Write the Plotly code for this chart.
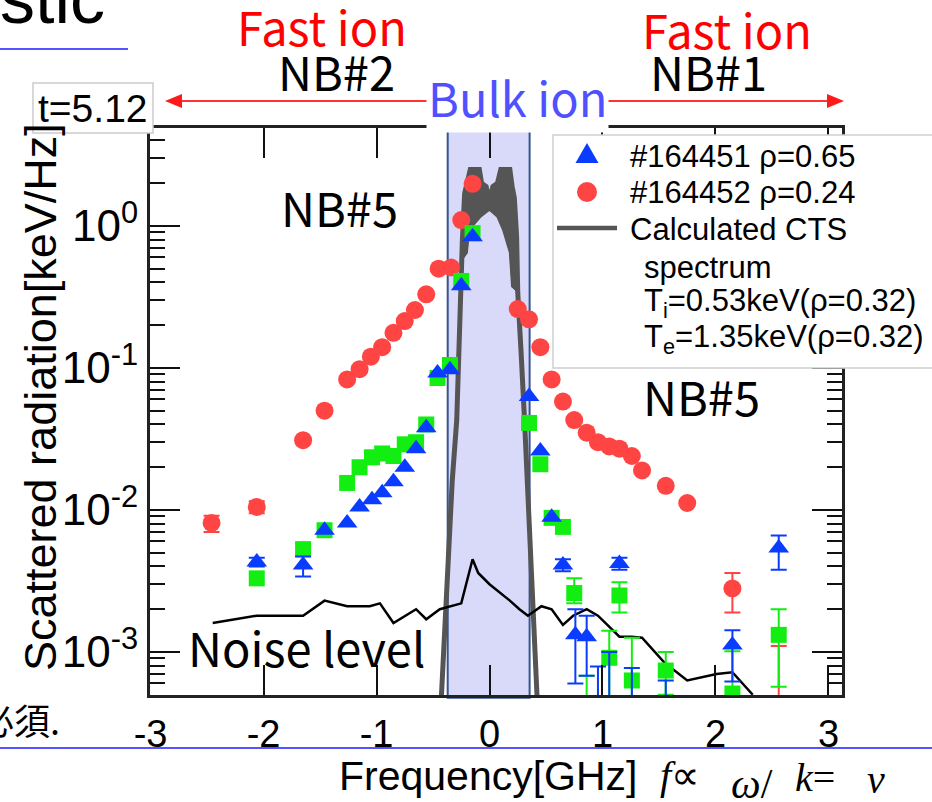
import plotly.graph_objects as go

W, H = 932, 802


def X(px):
    return px / W


def Y(py):
    return 1 - py / H


# ---------------- data ----------------
x_ticks = [-3, -2, -1, 0, 1, 2, 3]
x_ticktext = ["-3", "-2", "-1", "0", "1", "2", "3"]
y_ticks = [1e-3, 1e-2, 1e-1, 1]
y_ticktext = ["10<sup>-3</sup>", "10<sup>-2</sup>", "10<sup>-1</sup>", "10<sup>0</sup>"]

# #164452 rho=0.24 (red circles)
red_x = [-2.46, -2.06, -1.65, -1.46, -1.26, -1.15, -1.05, -0.95, -0.85, -0.75, -0.66, -0.56,
         -0.45, -0.34, -0.25, -0.15, 0.25, 0.35, 0.45, 0.55, 0.65, 0.75, 0.86, 0.96, 1.06,
         1.15, 1.26, 1.35, 1.56, 1.75, 2.15, 2.56]
red_y = [8.1e-3, 0.0105, 0.031, 0.050, 0.083, 0.098, 0.12, 0.14, 0.177, 0.214, 0.256, 0.33,
         0.50, 0.51, 1.1, 1.98, 0.26, 0.22, 0.14, 0.083, 0.058, 0.043, 0.035, 0.030, 0.028,
         0.027, 0.024, 0.019, 0.0148, 0.0112, 2.8e-3, 4e-4]
red_ep = [1.0e-3, 1.0e-3, 0, 0, 0, 0, 0, 0, 0, 0, 0, 0, 0, 0, 0, 0, 0, 0, 0, 0, 0, 0, 0, 0, 0,
          0, 0, 0, 0, 0, 0.8e-3, 0.7e-3]
red_em = [1.1e-3, 1.0e-3, 0, 0, 0, 0, 0, 0, 0, 0, 0, 0, 0, 0, 0, 0, 0, 0, 0, 0, 0, 0, 0, 0, 0,
          0, 0, 0, 0, 0, 0.9e-3, 0]

# #164451 rho=0.65 (blue triangles)
blue_x = [-2.06, -1.65, -1.46, -1.26, -1.15, -1.04, -0.95, -0.85, -0.75, -0.65, -0.56, -0.46,
          -0.35, -0.25, -0.15, 0.35, 0.45, 0.55, 0.65, 0.76, 0.86, 0.96, 1.06, 1.15, 1.26,
          1.56, 2.15, 2.56]
blue_y = [4.3e-3, 4.1e-3, 7.2e-3, 8.1e-3, 0.0105, 0.0118, 0.0132, 0.0158, 0.020, 0.027, 0.038,
          0.092, 0.097, 0.38, 0.84, 0.063, 0.026, 8.9e-3, 4.1e-3, 1.32e-3, 1.28e-3, 4e-4, 4e-4,
          4.2e-3, 4e-4, 4e-4, 1.12e-3, 5.4e-3]
blue_ep = [0.3e-3, 0.6e-3, 0, 0, 0, 0, 0, 0, 0, 0, 0, 0, 0, 0, 0, 0, 0, 0, 0.4e-3, 0.68e-3,
           0.52e-3, 0.39e-3, 0.6e-3, 0.4e-3, 0.37e-3, 0.23e-3, 0.3e-3, 1.2e-3]
blue_em = [0.3e-3, 0.7e-3, 0, 0, 0, 0, 0, 0, 0, 0, 0, 0, 0, 0, 0, 0, 0, 0, 0.4e-3, 0.72e-3,
           0.6e-3, 0, 0, 0.4e-3, 0, 0, 0.5e-3, 1.6e-3]

# green squares (no legend entry)
green_x = [-2.06, -1.65, -1.46, -1.26, -1.15, -1.04, -0.95, -0.85, -0.75, -0.65, -0.56, -0.46,
           -0.35, -0.25, -0.15, 0.35, 0.45, 0.55, 0.65, 0.75, 0.86, 1.06, 1.15, 1.26, 1.56,
           2.15, 2.56]
green_y = [3.3e-3, 5.3e-3, 7.2e-3, 0.0155, 0.020, 0.0235, 0.025, 0.024, 0.029, 0.030, 0.040,
           0.085, 0.105, 0.41, 0.89, 0.041, 0.021, 8.8e-3, 7.6e-3, 2.6e-3, 4e-4, 9.1e-4, 2.5e-3,
           6.3e-4, 7.4e-4, 5.1e-4, 1.32e-3]
green_ep = [0, 0, 0, 0, 0, 0, 0, 0, 0, 0, 0, 0, 0, 0, 0, 0, 0, 0, 0, 0.7e-3, 0.28e-3, 0.5e-3,
            0.6e-3, 0.63e-3, 0.26e-3, 0.5e-3, 0.68e-3]
green_em = [0, 0, 0, 0, 0, 0, 0, 0, 0, 0, 0, 0, 0, 0, 0, 0, 0, 0, 0, 0.4e-3, 0, 6.1e-4, 0.6e-3,
            3.3e-4, 0.24e-3, 0.2e-3, 0.75e-3]

# Calculated CTS spectrum (outer edge of the thick line, and inner edge of the jagged top)
cts_x = [-0.45, -0.425, -0.33, -0.29, -0.26, -0.24, -0.22, -0.20, -0.17, -0.13, -0.09, -0.07,
         -0.03, 0.0, 0.03, 0.07, 0.10, 0.14, 0.18, 0.20, 0.22, 0.24, 0.25, 0.28, 0.31, 0.42,
         0.44]
cts_y = [2e-4, 5e-4, 0.016, 0.043, 0.30, 0.80, 1.7, 2.0, 2.5, 2.5, 2.5, 2.0, 1.9, 1.5, 1.9,
         2.0, 2.5, 2.5, 2.5, 1.9, 1.57, 0.84, 0.34, 0.127, 0.043, 5e-4, 2e-4]
cts_in_x = [0.20, 0.18, 0.12, 0.07, 0.0, -0.08, -0.18, -0.20, -0.23]
cts_in_y = [0.37, 0.65, 0.94, 1.16, 1.3, 1.16, 0.94, 0.65, 0.6]

# Noise level
noise_x = [-2.45, -2.06, -1.65, -1.46, -1.26, -1.06, -0.97, -0.85, -0.65, -0.56, -0.44, -0.25,
           -0.15, -0.10, 0.0, 0.10, 0.18, 0.265, 0.34, 0.46, 0.55, 0.65, 0.74, 0.86, 0.96,
           1.15, 1.26, 1.35, 1.55, 1.75, 2.01, 2.15, 2.33]
noise_y = [1.6e-3, 1.8e-3, 1.8e-3, 2.3e-3, 2.1e-3, 2.1e-3, 2.2e-3, 1.6e-3, 2.0e-3, 1.7e-3,
           2.0e-3, 2.2e-3, 4.5e-3, 3.6e-3, 3.0e-3, 2.6e-3, 2.3e-3, 2.0e-3, 1.8e-3, 2.1e-3,
           2.0e-3, 1.55e-3, 1.8e-3, 2.0e-3, 1.8e-3, 1.28e-3, 1.28e-3, 1.26e-3, 8.4e-4, 6.3e-4,
           7.0e-4, 7.2e-4, 5.0e-4]

bulk_x0, bulk_x1 = -0.37, 0.355

BLUE = "#0a3cff"
RED = "#ff4444"
GREEN = "#12ee12"
GRAY = "#555555"
SANS = "Liberation Sans, Arial, sans-serif"
JP = "Noto Sans CJK JP, Noto Sans, sans-serif"
SERIF = "Liberation Serif, Times New Roman, serif"

fig = go.Figure()

# CTS spectrum: jagged top filled, thick outline
poly_x = [x for x in cts_x if -0.245 <= x <= 0.255] + cts_in_x
poly_y = [y for x, y in zip(cts_x, cts_y) if -0.245 <= x <= 0.255] + cts_in_y
fig.add_trace(go.Scatter(x=poly_x, y=poly_y, mode="lines", fill="toself", fillcolor=GRAY,
                         line=dict(color=GRAY, width=1), hoverinfo="skip"))
fig.add_trace(go.Scatter(x=cts_x, y=cts_y, mode="lines", line=dict(color=GRAY, width=5)))
fig.add_trace(go.Scatter(x=cts_in_x, y=cts_in_y, mode="lines", line=dict(color=GRAY, width=2)))

# Noise level
fig.add_trace(go.Scatter(x=noise_x, y=noise_y, mode="lines", line=dict(color="black", width=2.5)))


def add_series(xs, ys, ep, em, color, symbol, size):
    idx = [i for i in range(len(xs)) if ep[i] > 0 or em[i] > 0]
    fig.add_trace(go.Scatter(
        x=[xs[i] for i in idx], y=[ys[i] for i in idx], mode="markers",
        marker=dict(size=1, opacity=0),
        error_y=dict(type="data", symmetric=False, array=[ep[i] for i in idx],
                     arrayminus=[em[i] for i in idx], color=color, thickness=2, width=8)))
    fig.add_trace(go.Scatter(x=xs, y=ys, mode="markers",
                             marker=dict(symbol=symbol, size=size, color=color,
                                         line=dict(width=0))))


add_series(red_x, red_y, red_ep, red_em, RED, "circle", 18)
add_series(green_x, green_y, green_ep, green_em, GREEN, "square", 16)
add_series(blue_x, blue_y, blue_ep, blue_em, BLUE, "triangle-up", 18)

shapes = []
# Bulk-ion band
shapes.append(dict(type="rect", xref="x", yref="y domain", x0=bulk_x0, x1=bulk_x1, y0=-0.005,
                   y1=1, fillcolor="#d9d9fa", line=dict(color="#34558f", width=2),
                   layer="below"))
# red arrow
shapes.append(dict(type="line", xref="paper", yref="paper", x0=X(178), x1=X(830), y0=Y(101),
                   y1=Y(101), line=dict(color="#ff3333", width=2)))
shapes.append(dict(type="path", xref="paper", yref="paper",
                   path=f"M{X(165)},{Y(101)} L{X(182)},{Y(94)} L{X(182)},{Y(108)} Z",
                   fillcolor="#ff1a1a", line=dict(width=0)))
shapes.append(dict(type="path", xref="paper", yref="paper",
                   path=f"M{X(844)},{Y(101)} L{X(827)},{Y(94)} L{X(827)},{Y(108)} Z",
                   fillcolor="#ff1a1a", line=dict(width=0)))
# t=5.12 box
shapes.append(dict(type="rect", xref="paper", yref="paper", x0=X(33), x1=X(153), y0=Y(133),
                   y1=Y(83), fillcolor="white", line=dict(color="#cccccc", width=1.5),
                   layer="above"))
# legend box
shapes.append(dict(type="rect", xref="paper", yref="paper", x0=X(553), x1=X(945), y0=Y(368),
                   y1=Y(135), fillcolor="white", line=dict(color="#cfcfcf", width=1.5),
                   layer="above"))
shapes.append(dict(type="path", xref="paper", yref="paper",
                   path=f"M{X(575.5)},{Y(163)} L{X(598.5)},{Y(163)} L{X(587)},{Y(143)} Z",
                   fillcolor=BLUE, line=dict(width=0), layer="above"))
shapes.append(dict(type="circle", xref="paper", yref="paper", x0=X(577), x1=X(597), y0=Y(202),
                   y1=Y(182), fillcolor=RED, line=dict(width=0), layer="above"))
shapes.append(dict(type="line", xref="paper", yref="paper", x0=X(557), x1=X(617), y0=Y(228),
                   y1=Y(228), line=dict(color=GRAY, width=4.5), layer="above"))
# blue rules of the slide
shapes.append(dict(type="line", xref="paper", yref="paper", x0=0, x1=X(128), y0=Y(49),
                   y1=Y(49), line=dict(color="#1a1aff", width=1.5)))
shapes.append(dict(type="line", xref="paper", yref="paper", x0=0, x1=1, y0=Y(748),
                   y1=Y(748), line=dict(color="#1a1aff", width=1.5)))

ann = []


def text(t, px, py, size, color="black", family=SANS, xanchor="center", yanchor="middle",
         angle=0, bg=None):
    d = dict(text=t, x=X(px), y=Y(py), xref="paper", yref="paper", showarrow=False,
             xanchor=xanchor, yanchor=yanchor, textangle=angle,
             font=dict(size=size, color=color, family=family))
    if bg:
        d["bgcolor"] = bg
    ann.append(d)


text("stic", -2, 40, 70, xanchor="left", yanchor="bottom")
text("Fast ion", 322, 26, 47, color="#ff0000", family=JP)
text("Fast ion", 727, 28, 47, color="#ff0000", family=JP)
text("NB#2", 336, 71, 47, family=JP)
text("NB#1", 708, 71, 47, family=JP)
text("Bulk ion", 517, 97, 47, color="#5050ff", family=JP, bg="white")
text("t=5.12", 93, 108, 39)
text("NB#5", 339, 206, 47, family=JP)
text("NB#5", 701, 395, 47, family=JP)
text("Noise level", 306, 646, 47, family=JP)
text("必須.", 62, 719, 36, family=JP, xanchor="right")
text("Scattered radiation[keV/Hz]", 40, 397, 45, angle=-90)
text("Frequency[GHz]", 488, 776, 41)
text("<i>f</i>∝", 680, 775, 40, family=SERIF)
text("<i>ω</i>/", 752, 784, 42, family=SERIF)
text("<i>k</i>=", 815, 777, 40, family=SERIF)
text("<i>v</i>", 876, 779, 40, family=SERIF)
# legend texts
text("#164451 ρ=0.65", 628, 156, 31, xanchor="left")
text("#164452 ρ=0.24", 628, 193, 31, xanchor="left")
text("Calculated CTS", 628, 229, 31, xanchor="left")
text("spectrum", 642, 267, 31, xanchor="left")
text("T<sub>i</sub>=0.53keV(ρ=0.32)", 642, 303, 31, xanchor="left")
text("T<sub>e</sub>=1.35keV(ρ=0.32)", 642, 339, 31, xanchor="left")

minor_vals = [m * 10.0 ** e for e in (-4, -3, -2, -1, 0) for m in range(2, 10)]

fig.update_layout(
    width=W, height=H, margin=dict(l=0, r=0, t=0, b=0, autoexpand=False),
    paper_bgcolor="white", plot_bgcolor="white", showlegend=False,
    shapes=shapes, annotations=ann,
    xaxis=dict(domain=[X(150), X(842)], range=[-3.005, 3.12], tickvals=x_ticks,
               ticktext=x_ticktext, ticks="inside", ticklen=30, tickwidth=2,
               tickcolor="#111", showline=True, linewidth=3, linecolor="#222",
               mirror="ticks", showgrid=False, zeroline=False, automargin=False,
               ticklabelstandoff=3,
               tickfont=dict(family=SANS, size=38, color="black")),
    yaxis=dict(type="log", domain=[Y(695), Y(128)], range=[-3.303, 0.69], tickvals=y_ticks,
               ticktext=y_ticktext, ticks="inside", ticklen=30, tickwidth=2,
               tickcolor="#111", showline=True, linewidth=3, linecolor="#222",
               mirror="ticks", showgrid=False, zeroline=False, automargin=False,
               tickfont=dict(family=SANS, size=44, color="black"),
               minor=dict(tickvals=minor_vals, ticks="inside", ticklen=15, tickwidth=2,
                          tickcolor="#111", showgrid=False)),
)

fig.write_html("out.html")
